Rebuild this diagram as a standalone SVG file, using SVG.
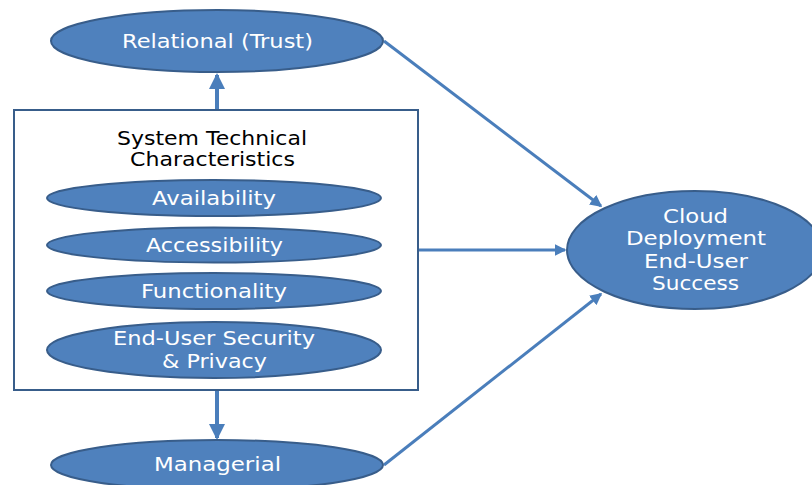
<svg xmlns="http://www.w3.org/2000/svg" width="812" height="485" viewBox="0 0 812 485">
<defs>
<style>
.node{fill:#4F81BD;stroke:#385D8A;stroke-width:2}
.lbl{font-family:"DejaVu Sans","Open Sans",sans-serif;font-size:19px;fill:#FFFFFF;text-anchor:middle}
.ttl{font-family:"DejaVu Sans","Open Sans",sans-serif;font-size:19px;fill:#000000;text-anchor:middle}
.edge{stroke:#4A7EBB;stroke-width:3;fill:none;marker-end:url(#ah)}
</style>
<marker id="ah" markerWidth="4" markerHeight="4" refX="3.5" refY="2" orient="auto" markerUnits="strokeWidth">
<path d="M0,0 L4,2 L0,4 Z" fill="#4A7EBB"/>
</marker>
</defs>
<rect width="812" height="485" fill="#FFFFFF"/>
<g id="connectors">
<line class="edge" x1="217" y1="110" x2="217" y2="75" style="stroke-width:4"/>
<line class="edge" x1="217" y1="390" x2="217" y2="438" style="stroke-width:4"/>
<line class="edge" x1="384" y1="41" x2="601" y2="206"/>
<line class="edge" x1="418" y1="250" x2="565" y2="250"/>
<line class="edge" x1="384" y1="465" x2="601" y2="294"/>
</g>
<g id="relational">
<ellipse class="node" cx="217" cy="41" rx="166" ry="31"/>
<text class="lbl" x="217.5" y="48" textLength="191" lengthAdjust="spacingAndGlyphs">Relational (Trust)</text>
</g>
<g id="system">
<rect x="14" y="110" width="404" height="280" fill="#FFFFFF" stroke="#385D8A" stroke-width="2"/>
<text class="ttl" x="212" y="145" textLength="190" lengthAdjust="spacingAndGlyphs">System Technical</text>
<text class="ttl" x="212.5" y="166" textLength="165" lengthAdjust="spacingAndGlyphs">Characteristics</text>
</g>
<g id="availability">
<ellipse class="node" cx="214" cy="198" rx="167" ry="18"/>
<text class="lbl" x="214" y="205" textLength="124" lengthAdjust="spacingAndGlyphs">Availability</text>
</g>
<g id="accessibility">
<ellipse class="node" cx="214" cy="245" rx="167" ry="17.5"/>
<text class="lbl" x="214.5" y="252" textLength="137" lengthAdjust="spacingAndGlyphs">Accessibility</text>
</g>
<g id="functionality">
<ellipse class="node" cx="214" cy="291" rx="167" ry="18"/>
<text class="lbl" x="214" y="298" textLength="146" lengthAdjust="spacingAndGlyphs">Functionality</text>
</g>
<g id="security">
<ellipse class="node" cx="214" cy="350" rx="167" ry="28"/>
<text class="lbl" x="214" y="345" textLength="202" lengthAdjust="spacingAndGlyphs">End-User Security</text>
<text class="lbl" x="214.5" y="368" textLength="105" lengthAdjust="spacingAndGlyphs">&amp; Privacy</text>
</g>
<g id="managerial">
<ellipse class="node" cx="217" cy="465" rx="166" ry="25"/>
<text class="lbl" x="217.5" y="471" textLength="127" lengthAdjust="spacingAndGlyphs">Managerial</text>
</g>
<g id="cloud">
<ellipse class="node" cx="695" cy="250" rx="128" ry="59"/>
<text class="lbl" x="695.5" y="223" textLength="65" lengthAdjust="spacingAndGlyphs">Cloud</text>
<text class="lbl" x="696" y="245" textLength="140" lengthAdjust="spacingAndGlyphs">Deployment</text>
<text class="lbl" x="696" y="268" textLength="104" lengthAdjust="spacingAndGlyphs">End-User</text>
<text class="lbl" x="695.5" y="290" textLength="87" lengthAdjust="spacingAndGlyphs">Success</text>
</g>
</svg>
